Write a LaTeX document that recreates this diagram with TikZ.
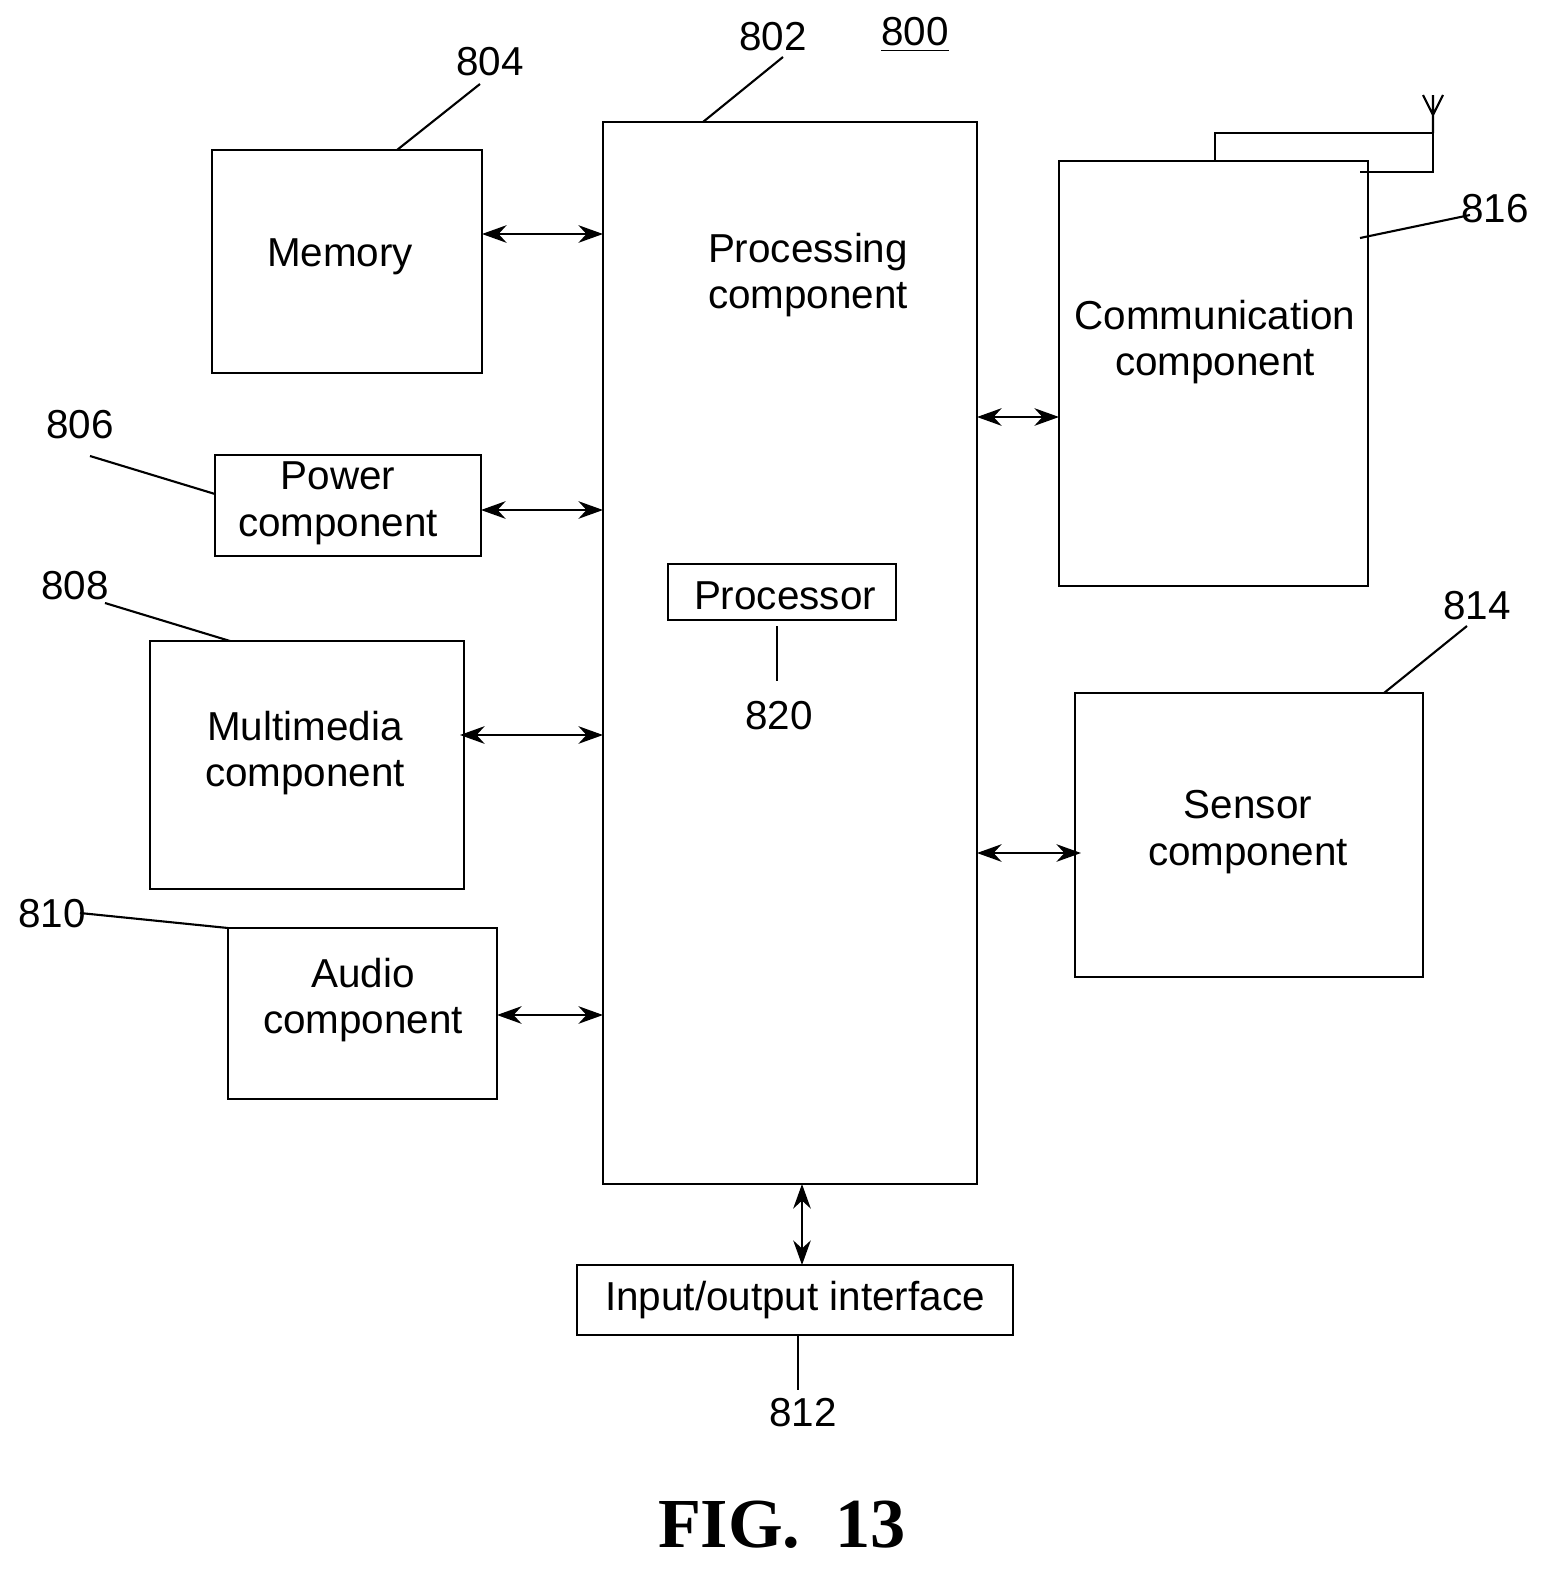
\documentclass[tikz,border=0pt]{standalone}
\usetikzlibrary{arrows.meta}
\usepackage{fontspec}
\setmainfont{Liberation Sans}
\newfontfamily\figfont{Liberation Serif}
\begin{document}
\begin{tikzpicture}[x=0.1mm,y=-0.1mm,
 box/.style={draw,line width=0.7pt},
 txt/.style={font=\fontsize{11.5}{13.3}\selectfont,align=center},
 lbl/.style={font=\fontsize{11.5}{14}\selectfont},
 ln/.style={line width=0.6pt},
 arr/.style={ln,<->,>={Stealth[length=7pt,width=5pt]}}]
\useasboundingbox (0,0) rectangle (1560,1580);
\draw[box] (603,122) rectangle (977,1184); \coordinate (P) at (603,122);
\node[txt] (pt) at (808,275) {Processing\\component};
\draw[box] (668,564) rectangle (896,620); \node[txt] (pr) at (785,596) {Processor};
\draw[box] (212,150) rectangle (482,373); \node[txt] (mem) at (340,257) {Memory};
\draw[box] (215,455) rectangle (481,556); \node[txt] (pow) at (338,503) {Power\\component};
\draw[box] (150,641) rectangle (464,889); \node[txt] (mm) at (305,753) {Multimedia\\component};
\draw[box] (228,928) rectangle (497,1099); \node[txt] (au) at (363,1000) {Audio\\component};
\draw[box] (1059,161) rectangle (1368,586); \node[txt] (cm) at (1215,342) {Communication\\component};
\draw[box] (1075,693) rectangle (1423,977); \node[txt] (se) at (1248,832) {Sensor\\component};
\draw[box] (577,1265) rectangle (1013,1335); \node[txt] (io) at (795,1300) {Input/output interface};
% arrows
\draw[arr] (482,234) -- (603,234);
\draw[arr] (481,510) -- (603,510);
\draw[arr] (460,735) -- (603,735);
\draw[arr] (497,1015) -- (603,1015);
\draw[arr] (977,417) -- (1059,417);
\draw[arr] (977,853) -- (1081,853);
\draw[arr] (802,1184) -- (802,1265);
% antenna
\draw[ln] (1215,161) -- (1215,133) -- (1433,133) -- (1433,172) -- (1360,172);
\draw[ln] (1433,133) -- (1433,95) (1423,95) -- (1433,115) -- (1443,95);
% labels
\node[lbl] (l800) at (915,35) {\underline{800}};
\node[lbl] (l802) at (773,37) {802}; \draw[ln] (783,57) -- (703,122);
\node[lbl] (l804) at (490,62) {804}; \draw[ln] (480,84) -- (397,150);
\node[lbl] (l806) at (80,425) {806}; \draw[ln] (90,456) -- (215,494);
\node[lbl] (l808) at (75,586) {808}; \draw[ln] (105,603) -- (230,641);
\node[lbl] (l810) at (52,914) {810}; \draw[ln] (80,913) -- (228,928);
\node[lbl] (l816) at (1495,209) {816}; \draw[ln] (1360,238) -- (1470,215);
\node[lbl] (l814) at (1477,606) {814}; \draw[ln] (1467,626) -- (1384,693);
\node[lbl] (l820) at (779,716) {820}; \draw[ln] (777,626) -- (777,681);
\node[lbl] (l812) at (803,1413) {812}; \draw[ln] (798,1335) -- (798,1390);
\node[font=\figfont\bfseries\fontsize{20}{24}\selectfont] (fig) at (782,1525) {FIG.\ \ 13};
\end{tikzpicture}
\end{document}
